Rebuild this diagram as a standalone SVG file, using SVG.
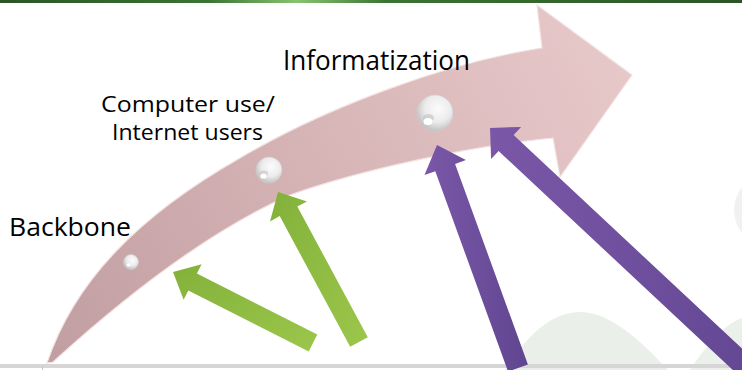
<svg xmlns="http://www.w3.org/2000/svg" width="742" height="370" viewBox="0 0 742 370">
<defs>
<style>
.lbl{font-family:"Open Sans","Noto Sans","Liberation Sans",sans-serif;fill:#000}
.green{fill:url(#gGreen)}
.purple{fill:url(#gPurple)}
.pearl{fill:url(#gPearl);stroke:#cfcfcf;stroke-width:0.6}
.shade{fill:#bdbdbd;opacity:0.55}
.glint{fill:#ffffff}
</style>
<linearGradient id="gTop" x1="0" y1="0" x2="1" y2="0">
<stop offset="0" stop-color="#2b5527"/>
<stop offset="0.28" stop-color="#3a7432"/>
<stop offset="0.4" stop-color="#86c46f"/>
<stop offset="0.52" stop-color="#3a7432"/>
<stop offset="1" stop-color="#2b5527"/>
</linearGradient>
<linearGradient id="gPink" x1="50" y1="360" x2="620" y2="60" gradientUnits="userSpaceOnUse">
<stop offset="0" stop-color="#c09ea1"/>
<stop offset="0.45" stop-color="#d4b2b4"/>
<stop offset="1" stop-color="#e7c8c9"/>
</linearGradient>
<linearGradient id="gGreen" x1="0" y1="0" x2="1" y2="1">
<stop offset="0" stop-color="#82b13a"/>
<stop offset="1" stop-color="#9cc64b"/>
</linearGradient>
<linearGradient id="gPurple" x1="0" y1="0" x2="1" y2="0">
<stop offset="0" stop-color="#7a57a7"/>
<stop offset="0.5" stop-color="#6e4f9d"/>
<stop offset="1" stop-color="#5f4590"/>
</linearGradient>
<radialGradient id="gPearl" cx="0.58" cy="0.38" r="0.62">
<stop offset="0" stop-color="#fcfcfc"/>
<stop offset="0.6" stop-color="#ebebeb"/>
<stop offset="1" stop-color="#c2c2c2"/>
</radialGradient>
</defs>

<rect x="0" y="0" width="742" height="370" fill="#ffffff"/>

<g id="watermark">
<path d="M505,370 C530,330 555,312 580,312 C610,312 640,340 668,370 Z" fill="#ebefe9"/>
<path d="M690,370 C708,342 728,322 742,318 L742,370 Z" fill="#ecf0ea"/>
<circle cx="770" cy="210" r="36" fill="#eff2ee"/>
</g>

<rect id="topbar" x="0" y="0" width="742" height="3" fill="url(#gTop)"/>
<rect id="bottombar" x="0" y="364" width="742" height="4" fill="#d6d6d6"/>
<rect x="42" y="366" width="1" height="4" fill="#c8c8c8"/>

<g id="timeline-arrow">
<path d="M47,363 C75,280 140,215 240,158 C330,105 450,62 542,48 L537,5 L632,75 L560,177 L553,138 C470,146 360,170 290,195 C200,235 110,310 53,362 Z" fill="url(#gPink)" stroke="#f3e2e2" stroke-width="1.2" stroke-linejoin="miter"/>
</g>

<g id="pearl-backbone">
<circle class="pearl" cx="131" cy="262" r="7.5"/>
<ellipse class="glint" cx="128.5" cy="265" rx="2" ry="1.5"/>
</g>
<g id="pearl-computer">
<circle class="pearl" cx="269" cy="170" r="13"/>
<ellipse class="shade" cx="264" cy="173.5" rx="4" ry="3"/>
<ellipse class="glint" cx="263.5" cy="176" rx="3.2" ry="2.6"/>
</g>
<g id="pearl-informatization">
<circle class="pearl" cx="435" cy="113" r="18"/>
<ellipse class="shade" cx="428.5" cy="118" rx="5.5" ry="4"/>
<ellipse class="glint" cx="428" cy="121.5" rx="4.5" ry="3.5"/>
</g>

<g id="label-informatization">
<text class="lbl" x="283" y="70" font-size="27" textLength="187" lengthAdjust="spacingAndGlyphs">Informatization</text>
</g>
<g id="label-computer">
<text class="lbl" x="101" y="112" font-size="21" textLength="174" lengthAdjust="spacingAndGlyphs">Computer use/</text>
<text class="lbl" x="112" y="140" font-size="21" textLength="151" lengthAdjust="spacingAndGlyphs">Internet users</text>
</g>
<g id="label-backbone">
<text class="lbl" x="9" y="236" font-size="26" textLength="122" lengthAdjust="spacingAndGlyphs">Backbone</text>
</g>

<g id="connectors">
<polygon class="green" points="317.3,334.5 196.9,273.5 201.6,264.2 173,272 183.6,299.8 188.3,290.5 308.7,351.5"/>
<polygon class="green" points="367.8,337.2 297.3,206.6 307.0,201.4 278,192 270.0,221.4 279.7,216.1 350.2,346.8"/>
<polygon class="purple" points="527.9,364.4 455.1,164.0 465.9,160.1 437,145 424.5,175.1 435.3,171.2 508.1,371.6"/>
<polygon class="purple" points="789.5,393.0 513.6,135.0 521.1,126.9 490,128 491.1,159.1 498.6,151.0 774.5,409.0"/>
</g>
</svg>
